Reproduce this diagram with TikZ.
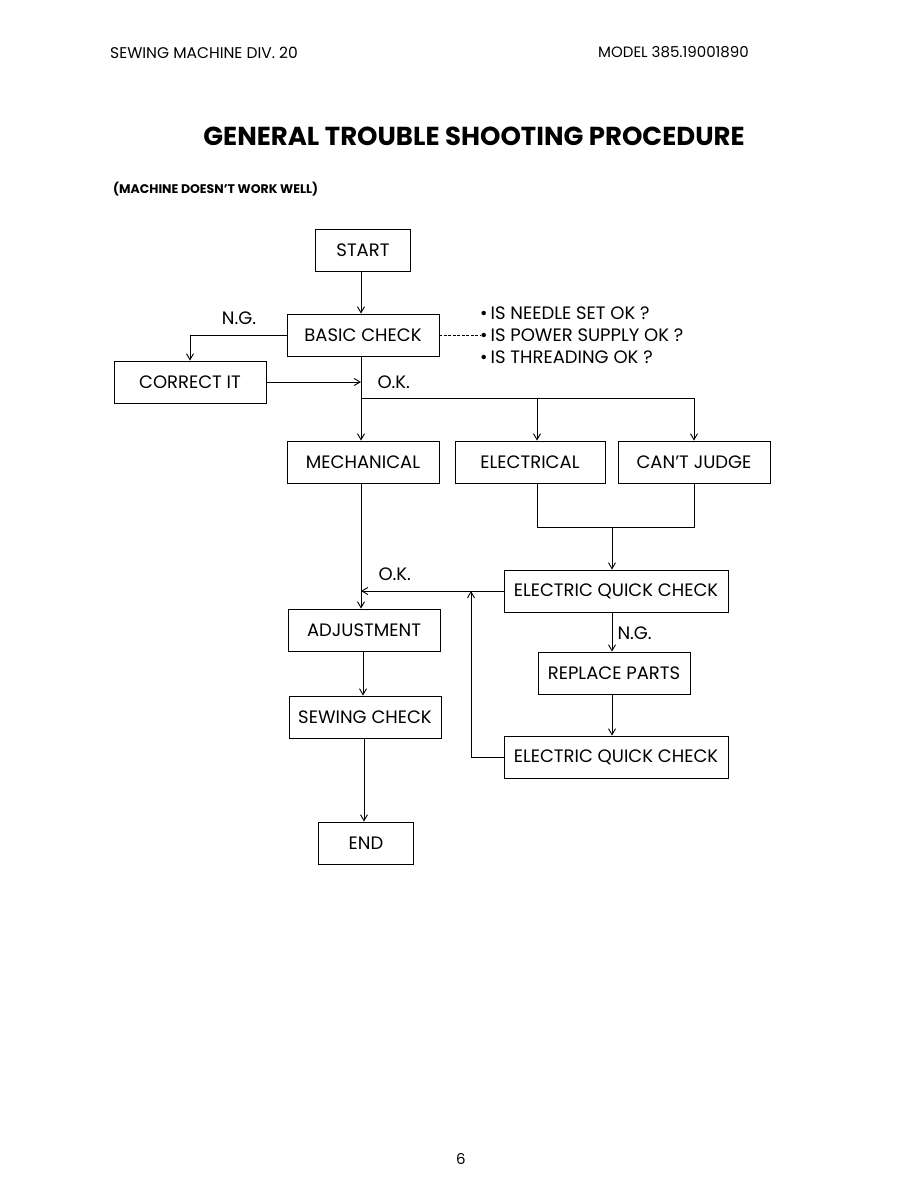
\documentclass[tikz,border=0pt]{standalone}
\usepackage{fontspec}
\setmainfont{Poppins}
\usepackage{tikz}
\usetikzlibrary{arrows.meta,positioning,calc}

\begin{document}
\begin{tikzpicture}[x=1pt, y=-1pt,
    every node/.style={font=\fontsize{18}{20}\selectfont},
    stepbox/.style={rectangle, draw, line width=0.9pt, minimum width=152pt, minimum height=42pt, inner sep=0pt},
    endbox/.style={stepbox, minimum width=95pt},
    widebox/.style={stepbox, minimum width=224pt},
    note/.style={anchor=west, inner sep=0pt},
    arr/.style={-{Straight Barb[length=6pt, width=7pt]}, line width=0.9pt},
    conn/.style={line width=0.9pt}
]
    \useasboundingbox (0,0) rectangle (918,1188);
    % header
    \node[anchor=west, inner sep=0pt, font=\fontsize{15.5}{17}\selectfont] (div) at (110,53) {SEWING MACHINE DIV. 20};
    \node[anchor=east, inner sep=0pt, font=\fontsize{15}{17}\selectfont] (model) at (749,52) {MODEL 385.19001890};
    \node[inner sep=0pt, font=\bfseries\fontsize{26}{30}\selectfont] (title) at (474,136) {GENERAL TROUBLE SHOOTING PROCEDURE};
    \node[anchor=west, inner sep=0pt, font=\bfseries\fontsize{12.5}{14}\selectfont] (sub) at (113,189) {(MACHINE DOESN'T WORK WELL)};

    % boxes
    \node[endbox] (start) at (363,250) {START};
    \node[stepbox] (basic) at (363,335) {BASIC CHECK};
    \node[stepbox] (correct) at (190,382) {CORRECT IT};
    \node[stepbox] (mech) at (363,462) {MECHANICAL};
    \node[stepbox, minimum width=150pt] (elec) at (530,462) {ELECTRICAL};
    \node[stepbox] (cant) at (694,462) {CAN'T JUDGE};
    \node[widebox] (eqc1) at (616,591) {ELECTRIC QUICK CHECK};
    \node[stepbox] (adj) at (364,630) {ADJUSTMENT};
    \node[stepbox] (repl) at (614,673) {REPLACE PARTS};
    \node[stepbox] (sew) at (365,717) {SEWING CHECK};
    \node[widebox] (eqc2) at (616,757) {ELECTRIC QUICK CHECK};
    \node[endbox] (end) at (366,843) {END};

    % basic check items
    \node[note] (q1) at (480,313) {\textbullet\,IS NEEDLE SET OK ?};
    \node[note] (q2) at (480,335) {\textbullet\,IS POWER SUPPLY OK ?};
    \node[note] (q3) at (480,357) {\textbullet\,IS THREADING OK ?};
    \draw[conn, dash pattern=on 3pt off 1.5pt] (basic.east) -- (q2.west);

    \coordinate (split) at (361,398);
    \coordinate (join) at (612,527);
    \coordinate (back) at (471,591);

    \draw[arr] (start.south -| 361,0) -- (basic.north -| 361,0);
    \draw[arr] (basic.west) -| (correct.north);
    \node[anchor=south] (ng1) at (239,328) {N.G.};
    \draw[arr] (correct.east) -- (correct.east -| split);
    \node[anchor=west] (ok1) at (374,382) {O.K.};
    \draw[arr] (basic.south -| split) -- (mech.north -| split);
    \draw[conn] (split) -- (694,398);
    \draw[arr] (split -| 537,0) -- (elec.north -| 537,0);
    \draw[arr] (split -| cant.north) -- (cant.north);

    \draw[conn] (elec.south -| 537,0) -- (join -| 537,0) -- (join -| cant.south) -- (cant.south);
    \draw[arr] (join) -- (eqc1.north -| join);

    \draw[arr] (mech.south -| split) -- (adj.north -| split);
    \draw[arr] (eqc1.west) -- (eqc1.west -| split);
    \node[anchor=west] (ok2) at (375,574) {O.K.};
    \draw[arr] (eqc2.west) -| (back);

    \draw[arr] (eqc1.south -| join) -- (repl.north -| join);
    \node[anchor=west] (ng2) at (614,633) {N.G.};
    \draw[arr] (repl.south -| join) -- (eqc2.north -| join);

    \draw[arr] (adj.south -| 363,0) -- (sew.north -| 363,0);
    \draw[arr] (sew.south -| 364,0) -- (end.north -| 364,0);

    % page number
    \node[font=\fontsize{15}{17}\selectfont] (page) at (461,1159) {6};
\end{tikzpicture}
\end{document}
